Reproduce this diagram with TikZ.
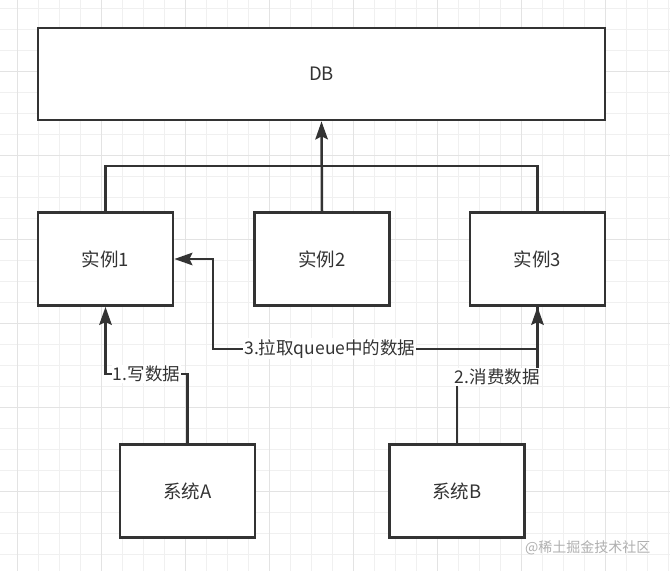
\documentclass[tikz,border=0pt]{standalone}
\usepackage{fontspec}
\setmainfont{Noto Sans CJK SC}
\usepackage{tikz}
\usetikzlibrary{positioning, arrows.meta, calc}

\definecolor{ink}{HTML}{333333}
\definecolor{gridminor}{HTML}{F0F0F0}
\definecolor{gridmajor}{HTML}{E3E3E3}
\definecolor{markgray}{HTML}{B0B0B0}

\begin{document}
\begin{tikzpicture}[x=1pt, y=-1pt, >={Stealth[length=18pt,width=12.5pt,inset=3pt]},
  box/.style={draw=ink, line width=2.8pt, fill=white, minimum width=135pt, minimum height=93pt,
    inner sep=0pt, text=ink, font=\fontsize{18.5}{21}\selectfont},
  wire/.style={draw=ink, line width=2.5pt},
  lab/.style={fill=white, inner sep=1pt, text=ink, font=\fontsize{17.5}{20}\selectfont},
]
  \useasboundingbox (0,0) rectangle (670,571);
  \fill[white] (0,0) rectangle (670,571);
  % background grid, a darker line every fourth
  \foreach \k in {0,...,31} \draw[gridminor, line width=1pt] ({17+21*\k},0) -- ++(0,571);
  \foreach \k in {0,...,26} \draw[gridminor, line width=1pt] (0,{8+21*\k}) -- ++(670,0);
  \foreach \k in {0,...,7} \draw[gridmajor, line width=1pt] ({17+84*\k},0) -- ++(0,571);
  \foreach \k in {0,...,5} \draw[gridmajor, line width=1pt] (0,{71+84*\k}) -- ++(670,0);

  \node[box, minimum width=567pt, minimum height=92pt] (db) at (321.5,74) {DB};
  \node[box] (inst1) at (105.5,259) {实例1};
  \node[box] (inst2) at (322,259) {实例2};
  \node[box] (inst3) at (537.5,259) {实例3};
  \node[box] (sysA) at (187.5,491) {系统A};
  \node[box] (sysB) at (457,491) {系统B};

  % instances share one line up to the DB
  \coordinate (bus) at (322,166);
  \draw[wire] (inst1.north) |- (bus) -| (inst3.north);
  \draw[wire,->] (inst2.north) -- (db.south);

  \draw[wire,->] (sysA.north) -- ++(0,-69) -| node[lab,pos=.25] {1.写数据} (inst1.south);
  \draw[wire,->] (sysB.north) -- ++(0,-66) -| node[lab,pos=.25] {2.消费数据} (inst3.south);
  \draw[wire,->] (inst3.south) -- ++(0,42)
    -- node[lab,pos=.64] {3.拉取queue中的数据} ++(-324.5,0) |- (inst1.east);

  \node[text=markgray, font=\fontsize{14}{16}\selectfont, anchor=east] (mark) at (654,548) {@稀土掘金技术社区};
\end{tikzpicture}
\end{document}
